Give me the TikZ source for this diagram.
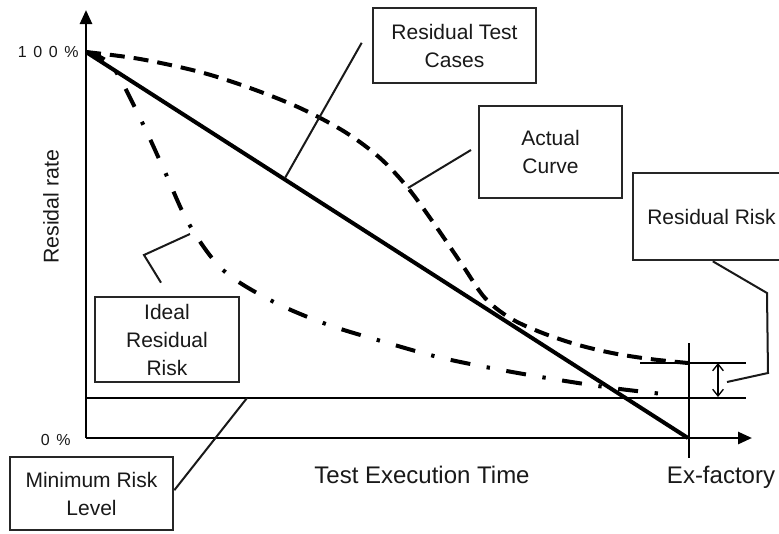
\documentclass[tikz,border=0pt]{standalone}
\usepackage{fontspec}
\setmainfont{Liberation Sans}
\usetikzlibrary{arrows.meta}

\begin{document}
\begin{tikzpicture}[x=0.75pt, y=-0.75pt,
  every node/.style={text=black!90},
  box/.style={rectangle, draw=black!85, line width=2pt, fill=white, inner sep=0pt,
              align=center, font=\fontsize{15.75}{21}\selectfont},
  lead/.style={line width=1.5pt, black!90},
  axis/.style={line width=2pt, -{Triangle[length=10.5pt, width=9pt]}},
  floor/.style={line width=1.6pt},
  target/.style={line width=3pt},
  actualcurve/.style={line width=3pt, dash pattern=on 11.25pt off 6.75pt},
  idealcurve/.style={line width=3pt, dash pattern=on 15pt off 12.5pt on 2.5pt off 12.5pt},
  spread/.style={line width=1pt, {Straight Barb[length=5pt, width=8pt]}-{Straight Barb[length=5pt, width=8pt]}},
  axislabel/.style={inner sep=0pt, anchor=base, font=\fontsize{18}{22}\selectfont}
]
  \clip (0,0) rectangle (779,533);
  \fill[white] (0,0) rectangle (779,533);

  % axes
  \coordinate (O)    at (86,438);
  \coordinate (ytop) at (86,10);
  \coordinate (xend) at (752,438);
  \coordinate (full) at (86,52);
  \coordinate (ship) at (688,438);
  \draw[axis] (O) -- (ytop);
  \draw[axis] (O) -- (xend);

  \node[anchor=east, inner sep=0pt, font=\fontsize{12}{14}\selectfont] (hundred) at (79,52) {1\hspace{5pt}0\hspace{5pt}0\hspace{5pt}\%};
  \node[anchor=east, inner sep=0pt, font=\fontsize{12}{14}\selectfont] (zero) at (71,440) {0\hspace{5pt}\%};
  \node[rotate=90, font=\fontsize{16}{19}\selectfont] (rate) at (51,207) {Residal rate};
  \node[axislabel] (time) at (422,483) {Test Execution Time};
  \node[axislabel] (exf)  at (721,483) {Ex-factory};

  % levels at shipping
  \draw[floor] (86,398) -- (746,398);
  \draw[floor] (640,363) -- (746,363);
  \draw[line width=2pt] (689,343) -- (689,458);
  \draw[spread] (718,363) -- (718,397);

  % residual test cases
  \draw[target] (full) -- (ship);

  % actual curve
  \draw[actualcurve] plot[smooth, tension=0.55] coordinates {
    (86,52) (140,59) (200,72) (250,88) (300,108) (345,132) (380,158)
    (408,188) (435,225) (463,266) (485,298) (510,318) (540,332)
    (575,344) (612,353) (650,359) (688,363)};

  % ideal residual risk
  \draw[idealcurve] plot[smooth, tension=0.55] coordinates {
    (86,52) (112,66) (141,120) (165,172) (189,224) (223,270) (272,301)
    (326,324) (381,341) (438,357) (496,369) (553,379) (612,388) (672,395)};

  % callouts
  \node[box, minimum width=122.25pt, minimum height=56.25pt] (cases)   at (454.5,45.5) {Residual Test\\Cases};
  \node[box, minimum width=107.25pt, minimum height=69pt]    (actual)  at (550.5,152)  {Actual\\Curve};
  \node[box, minimum width=117.75pt, minimum height=65.25pt] (risk)    at (711.5,216.5) {Residual Risk};
  \node[box, minimum width=108pt,    minimum height=63.75pt] (ideal)   at (167,339.5)  {Ideal\\Residual\\Risk};
  \node[box, minimum width=122.25pt, minimum height=54.75pt] (minrisk) at (91.5,493.5)  {Minimum Risk\\Level};

  \coordinate (casesend)  at (285,178);
  \coordinate (actualend) at (408,188);
  \coordinate (riskend)   at (727,382);
  \coordinate (idealend)  at (190,234);
  \coordinate (minend)    at (247,398);

  \draw[lead] ([xshift=-7.5pt, yshift=2pt]cases.west) -- (casesend);
  \draw[lead] ([xshift=-5pt, yshift=1.5pt]actual.west) -- (actualend);
  \draw[lead] ([xshift=1pt]risk.south) -- (767,293) -- (768,373) -- (riskend);
  \draw[lead] ([xshift=-4.5pt, yshift=9.75pt]ideal.north) -- (144,255) -- (idealend);
  \draw[lead] ([yshift=2.5pt]minrisk.east) -- (minend);
\end{tikzpicture}
\end{document}
